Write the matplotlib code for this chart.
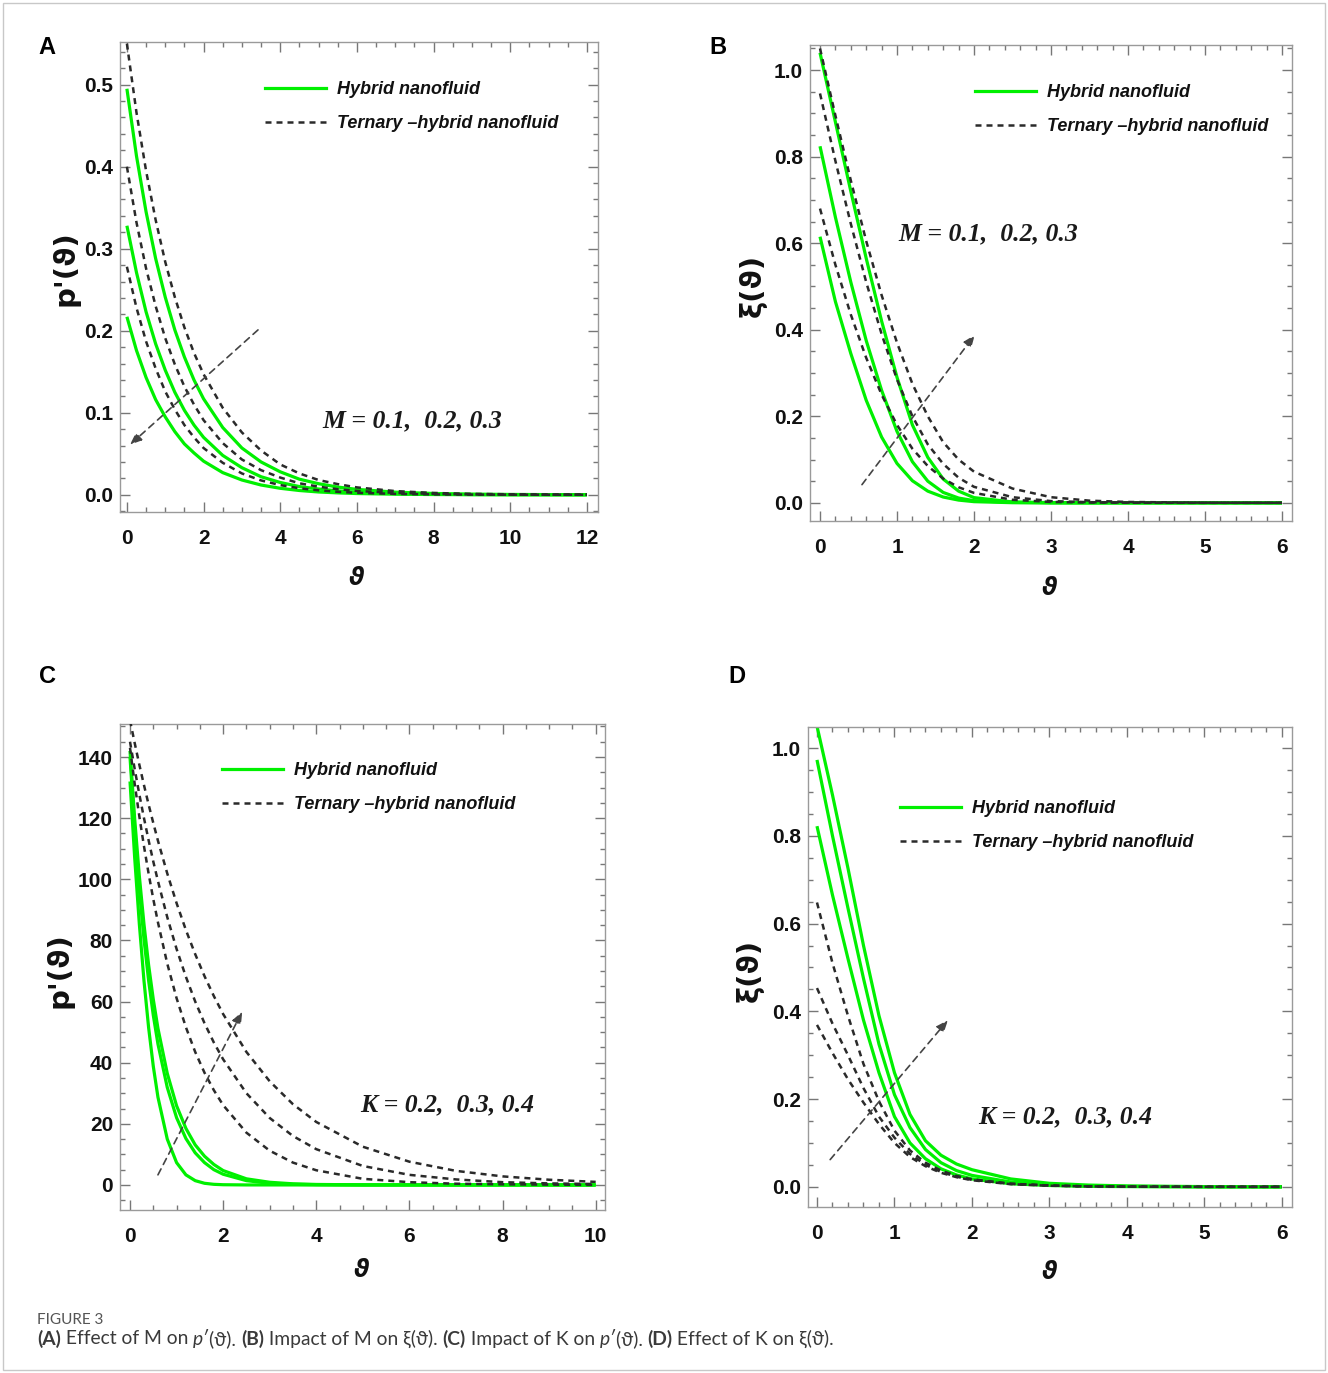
import matplotlib
matplotlib.use('Agg')
import matplotlib.pyplot as plt
from matplotlib.lines import Line2D
from matplotlib.patches import Rectangle
from matplotlib.ticker import MultipleLocator

# ---------------- data ----------------
# Panel A : p'(theta), effect of M
xA = [0, 0.25, 0.5, 0.75, 1, 1.25, 1.5, 1.75, 2, 2.5, 3, 3.5, 4, 4.5, 5, 5.5, 6, 7, 8, 9, 10, 11, 12]
A_hyb1 = [0.495, 0.413, 0.345, 0.288, 0.241, 0.201, 0.168, 0.140, 0.117, 0.082, 0.057, 0.040, 0.028, 0.019, 0.0135, 0.0094, 0.0066, 0.0032, 0.0016, 0.0008, 0.0004, 0.0002, 0.0001]
A_hyb2 = [0.328, 0.271, 0.223, 0.184, 0.152, 0.125, 0.103, 0.085, 0.070, 0.048, 0.033, 0.022, 0.015, 0.010, 0.0070, 0.0048, 0.0032, 0.0015, 0.0007, 0.0003, 0.0001, 0.0001, 0.0]
A_hyb3 = [0.217, 0.176, 0.143, 0.116, 0.095, 0.077, 0.062, 0.051, 0.041, 0.027, 0.018, 0.0119, 0.0079, 0.0052, 0.0034, 0.0023, 0.0015, 0.0007, 0.0003, 0.0001, 0.0, 0.0, 0.0]
A_ter1 = [0.550, 0.466, 0.395, 0.335, 0.284, 0.241, 0.204, 0.173, 0.147, 0.106, 0.076, 0.054, 0.037, 0.026, 0.018, 0.013, 0.009, 0.0045, 0.0022, 0.0011, 0.0006, 0.0003, 0.0002]
A_ter2 = [0.400, 0.332, 0.276, 0.230, 0.191, 0.159, 0.132, 0.110, 0.091, 0.063, 0.043, 0.030, 0.021, 0.014, 0.0099, 0.0068, 0.0047, 0.0023, 0.0011, 0.0005, 0.0002, 0.0001, 0.0001]
A_ter3 = [0.278, 0.228, 0.187, 0.154, 0.126, 0.104, 0.085, 0.070, 0.057, 0.039, 0.026, 0.0175, 0.0118, 0.0079, 0.0054, 0.0036, 0.0024, 0.0011, 0.0005, 0.0002, 0.0001, 0.0, 0.0]

# Panel B : xi(theta), effect of M
xB = [0, 0.2, 0.4, 0.6, 0.8, 1.0, 1.2, 1.4, 1.6, 1.8, 2.0, 2.5, 3, 3.5, 4, 5, 6]
B_hyb1 = [1.04, 0.88, 0.72, 0.565, 0.42, 0.29, 0.18, 0.105, 0.055, 0.027, 0.012, 0.002, 0.0005, 0.0, 0.0, 0.0, 0.0]
B_hyb2 = [0.824, 0.66, 0.51, 0.375, 0.26, 0.165, 0.095, 0.05, 0.024, 0.011, 0.005, 0.001, 0.0, 0.0, 0.0, 0.0, 0.0]
B_hyb3 = [0.615, 0.465, 0.345, 0.237, 0.152, 0.091, 0.051, 0.027, 0.0134, 0.0063, 0.0027, 0.0003, 0.0, 0.0, 0.0, 0.0, 0.0]
B_ter1 = [1.05, 0.895, 0.745, 0.605, 0.48, 0.37, 0.275, 0.20, 0.14, 0.10, 0.072, 0.033, 0.013, 0.005, 0.002, 0.0003, 0.0]
B_ter2 = [0.946, 0.79, 0.645, 0.51, 0.39, 0.285, 0.20, 0.135, 0.09, 0.058, 0.037, 0.013, 0.004, 0.0015, 0.0005, 0.0, 0.0]
B_ter3 = [0.68, 0.55, 0.435, 0.335, 0.25, 0.18, 0.125, 0.085, 0.056, 0.036, 0.023, 0.007, 0.002, 0.0007, 0.0002, 0.0, 0.0]

# Panel C : p'(theta), effect of K
xC = [0, 0.1, 0.2, 0.3, 0.4, 0.5, 0.6, 0.8, 1.0, 1.2, 1.4, 1.6, 1.8, 2.0, 2.5, 3, 3.5, 4, 5, 6, 7, 8, 9, 10]
C_hyb1 = [142, 119.8, 101.1, 85.3, 71.9, 60.7, 51.2, 36.5, 25.9, 18.5, 13.1, 9.4, 6.7, 4.7, 2.0, 0.87, 0.37, 0.16, 0.03, 0, 0, 0, 0, 0]
C_hyb2 = [140, 116.4, 96.7, 80.4, 66.8, 55.5, 46.1, 31.9, 22.0, 15.2, 10.5, 7.3, 5.0, 3.5, 1.4, 0.54, 0.2, 0.08, 0, 0, 0, 0, 0, 0]
C_hyb3 = [132, 107.1, 85.4, 66.8, 51.4, 38.8, 28.7, 15.0, 7.3, 3.3, 1.4, 0.54, 0.2, 0.07, 0, 0, 0, 0, 0, 0, 0, 0, 0, 0]
C_ter1 = [152, 144.6, 137.5, 130.8, 124.4, 118.4, 112.6, 101.9, 92.2, 83.4, 75.5, 68.3, 61.8, 55.9, 43.5, 33.9, 26.4, 20.6, 12.5, 7.6, 4.6, 2.8, 1.7, 1.0]
C_ter2 = [145, 136.1, 127.8, 120.0, 112.7, 105.8, 99.4, 87.6, 77.2, 68.1, 60.0, 52.9, 46.6, 41.1, 30.0, 21.9, 16.0, 11.7, 6.2, 3.3, 1.8, 0.9, 0.5, 0.3]
C_ter3 = [143, 131.3, 120.6, 110.8, 101.8, 93.5, 85.9, 72.4, 61.1, 51.6, 43.5, 36.7, 31.0, 26.1, 17.1, 11.2, 7.3, 4.8, 2.0, 0.9, 0.4, 0.2, 0.1, 0.0]

# Panel D : xi(theta), effect of K
xD = [0, 0.2, 0.4, 0.6, 0.8, 1.0, 1.2, 1.4, 1.6, 1.8, 2.0, 2.5, 3, 3.5, 4, 5, 6]
D_hyb1 = [1.05, 0.893, 0.726, 0.55, 0.39, 0.26, 0.165, 0.105, 0.072, 0.052, 0.039, 0.018, 0.008, 0.004, 0.002, 0.0005, 0.0]
D_hyb2 = [0.973, 0.80, 0.635, 0.475, 0.325, 0.21, 0.135, 0.085, 0.055, 0.037, 0.026, 0.011, 0.005, 0.002, 0.001, 0.0, 0.0]
D_hyb3 = [0.822, 0.665, 0.52, 0.38, 0.26, 0.16, 0.10, 0.064, 0.041, 0.027, 0.018, 0.007, 0.003, 0.001, 0.0005, 0.0, 0.0]
D_ter1 = [0.648, 0.51, 0.39, 0.28, 0.195, 0.128, 0.083, 0.055, 0.037, 0.025, 0.017, 0.007, 0.003, 0.001, 0.0005, 0.0, 0.0]
D_ter2 = [0.453, 0.372, 0.30, 0.225, 0.16, 0.112, 0.075, 0.05, 0.034, 0.023, 0.016, 0.007, 0.003, 0.001, 0.0005, 0.0, 0.0]
D_ter3 = [0.369, 0.305, 0.245, 0.192, 0.143, 0.10, 0.068, 0.047, 0.032, 0.022, 0.015, 0.006, 0.0025, 0.001, 0.0004, 0.0, 0.0]

legend_labels = ["Hybrid nanofluid", "Ternary \u2013hybrid nanofluid"]
param_texts = ["M = 0.1,  0.2, 0.3", "M = 0.1,  0.2, 0.3", "K = 0.2,  0.3, 0.4", "K = 0.2,  0.3, 0.4"]
panel_letters = ["A", "B", "C", "D"]
ylabels = ["p'(\u03d1)", "\u03be(\u03d1)", "p'(\u03d1)", "\u03be(\u03d1)"]
xlabel = "\u03d1"
caption_title = "FIGURE 3"

# ---------------- styling ----------------
W, H = 1328, 1373
fig = plt.figure(figsize=(W / 100, H / 100), dpi=100)
GREEN = '#00f000'
DARK = '#2a2a2a'
SPINE = '#9a9a9a'
TICKFONT = dict(family=['Liberation Sans', 'DejaVu Sans'], weight='bold', size=15)


def fx(px):
    return px / W


def fy(py):
    return 1 - py / H


def make_axes(l, t, r, b):
    return fig.add_axes([fx(l), fy(b), (r - l) / W, (b - t) / H])


panels = [
    dict(rect=(120, 42, 598, 512), xlim=(-0.18, 12.29), ylim=(-0.021, 0.552),
         xmaj=2, xmin=0.5, ymaj=0.1, ymin=0.02, yfmt='{:.1f}', xfmt='{:.0f}',
         x=xA, hyb=[A_hyb1, A_hyb2, A_hyb3], ter=[A_ter1, A_ter2, A_ter3],
         arrow=((3.42, 0.201), (0.08, 0.061)), ptext=(7.44, 0.090),
         leg=(265, 81), letter=(47, 47), ylab=(66, 268), xlab=(357, 578)),
    dict(rect=(810, 45, 1292, 521), xlim=(-0.13, 6.13), ylim=(-0.042, 1.058),
         xmaj=1, xmin=0.2, ymaj=0.2, ymin=0.05, yfmt='{:.1f}', xfmt='{:.0f}',
         x=xB, hyb=[B_hyb1, B_hyb2, B_hyb3], ter=[B_ter1, B_ter2, B_ter3],
         arrow=((0.545, 0.042), (2.01, 0.388)), ptext=(2.18, 0.621),
         leg=(975, 84), letter=(718, 47), ylab=(753, 285), xlab=(1050, 588)),
    dict(rect=(120, 724, 605, 1210), xlim=(-0.215, 10.2), ylim=(-8.2, 150.8),
         xmaj=2, xmin=0.5, ymaj=20, ymin=5, yfmt='{:.0f}', xfmt='{:.0f}',
         x=xC, hyb=[C_hyb1, C_hyb2, C_hyb3], ter=[C_ter1, C_ter2, C_ter3],
         arrow=((0.60, 3.3), (2.41, 56.7)), ptext=(6.82, 26.2),
         leg=(222, 762), letter=(47, 676), ylab=(60, 970), xlab=(362, 1270)),
    dict(rect=(808, 727, 1292, 1207), xlim=(-0.116, 6.13), ylim=(-0.046, 1.048),
         xmaj=1, xmin=0.2, ymaj=0.2, ymin=0.05, yfmt='{:.1f}', xfmt='{:.0f}',
         x=xD, hyb=[D_hyb1, D_hyb2, D_hyb3], ter=[D_ter1, D_ter2, D_ter3],
         arrow=((0.17, 0.062), (1.69, 0.38)), ptext=(3.2, 0.159),
         leg=(900, 800), letter=(737, 676), ylab=(750, 970), xlab=(1050, 1272)),
]

for i, p in enumerate(panels):
    ax = make_axes(*p['rect'])
    for y in p['ter']:
        ax.plot(p['x'], y, color=DARK, lw=1.8, ls=(0, (2.4, 2.0)), zorder=3)
    for y in p['hyb']:
        ax.plot(p['x'], y, color=GREEN, lw=2.3, zorder=2, solid_capstyle='butt')
    ax.set_xlim(*p['xlim'])
    ax.set_ylim(*p['ylim'])
    ax.xaxis.set_major_locator(MultipleLocator(p['xmaj']))
    ax.xaxis.set_minor_locator(MultipleLocator(p['xmin']))
    ax.yaxis.set_major_locator(MultipleLocator(p['ymaj']))
    ax.yaxis.set_minor_locator(MultipleLocator(p['ymin']))
    ax.xaxis.set_major_formatter(plt.FuncFormatter(lambda v, pos, f=p['xfmt']: f.format(v + 0.0)))
    ax.yaxis.set_major_formatter(plt.FuncFormatter(lambda v, pos, f=p['yfmt']: f.format(abs(v) if abs(v) < 1e-9 else v)))
    ax.tick_params(which='both', direction='in', top=True, right=True, color='#777777',
                   labelcolor='#111111', width=1)
    ax.tick_params(which='major', length=7)
    ax.tick_params(which='minor', length=3.5)
    ax.tick_params(axis='x', which='major', pad=12)
    ax.tick_params(axis='y', which='major', pad=5)
    for lab in ax.get_xticklabels() + ax.get_yticklabels():
        lab.set_fontproperties(dict(TICKFONT))
    for s in ax.spines.values():
        s.set_color(SPINE)
        s.set_linewidth(1.0)

    # arrow
    (x0, y0), (x1, y1) = p['arrow']
    ax.annotate('', xy=(x1, y1), xytext=(x0, y0),
                arrowprops=dict(arrowstyle='-|>,head_length=0.7,head_width=0.28',
                                ls=(0, (4, 3)), lw=1.2, color='#444444',
                                shrinkA=0, shrinkB=0), zorder=5)
    # parameter text
    ax.text(*p['ptext'], param_texts[i], ha='center', va='center', fontsize=18.5,
            family=['Liberation Serif', 'DejaVu Serif'], weight='bold', style='italic',
            color='#1a1a1a')
    # legend
    handles = [Line2D([0], [0], color=GREEN, lw=2.3),
               Line2D([0], [0], color=DARK, lw=1.8, ls=(0, (2.4, 2.0)))]
    lx, ly = p['leg']
    leg = ax.legend(handles, legend_labels, loc='upper left',
                    bbox_to_anchor=(fx(lx), fy(ly)), bbox_transform=fig.transFigure,
                    frameon=False, borderpad=0, borderaxespad=0, handlelength=3.4,
                    handletextpad=0.6, labelspacing=0.95,
                    prop=dict(family=['Liberation Sans', 'DejaVu Sans'], weight='bold',
                              style='italic', size=13))
    for t in leg.get_texts():
        t.set_color('#111111')

    # panel letter, labels
    fig.text(fx(p['letter'][0]), fy(p['letter'][1]), panel_letters[i], ha='center', va='center',
             fontsize=17, weight='bold', family=['Liberation Sans', 'DejaVu Sans'])
    fig.text(fx(p['ylab'][0]), fy(p['ylab'][1]), ylabels[i], ha='center', va='center',
             rotation=90, fontsize=21, weight='bold', family=['DejaVu Sans'], color='#111111')
    fig.text(fx(p['xlab'][0]), fy(p['xlab'][1]), xlabel, ha='center', va='center',
             fontsize=17, weight='bold', style='italic', family=['DejaVu Sans'], color='#111111')

# ---------------- caption ----------------
CAPFONT = ['Lato', 'DejaVu Sans']
fig.text(fx(37), fy(1320), caption_title, ha='left', va='center', fontsize=11,
         family=CAPFONT, color='#555555')

cap_parts = [
    ("(A)", 'bold', 'normal'), (" Effect of M on ", 'normal', 'normal'), ("p\u2032", 'normal', 'italic'),
    ("(\u03d1). ", 'normal', 'normal'),
    ("(B)", 'bold', 'normal'), (" Impact of M on \u03be(\u03d1). ", 'normal', 'normal'),
    ("(C)", 'bold', 'normal'), (" Impact of K on ", 'normal', 'normal'), ("p\u2032", 'normal', 'italic'),
    ("(\u03d1). ", 'normal', 'normal'),
    ("(D)", 'bold', 'normal'), (" Effect of K on \u03be(\u03d1).", 'normal', 'normal'),
]
renderer = fig.canvas.get_renderer()
xpos = 37
for txt, wt, st in cap_parts:
    t = fig.text(fx(xpos), fy(1339), txt, ha='left', va='center', fontsize=13.9,
                 family=CAPFONT, weight=wt, style=st, color='#3a3a3a')
    bb = t.get_window_extent(renderer=renderer)
    xpos += bb.width

# thin border around the whole figure
fig.patches.append(Rectangle((fx(3), fy(1370)), (1322) / W, (1367) / H, transform=fig.transFigure,
                             fill=False, ec='#c8c8c8', lw=1.0))

fig.savefig('out.png', dpi=100)
